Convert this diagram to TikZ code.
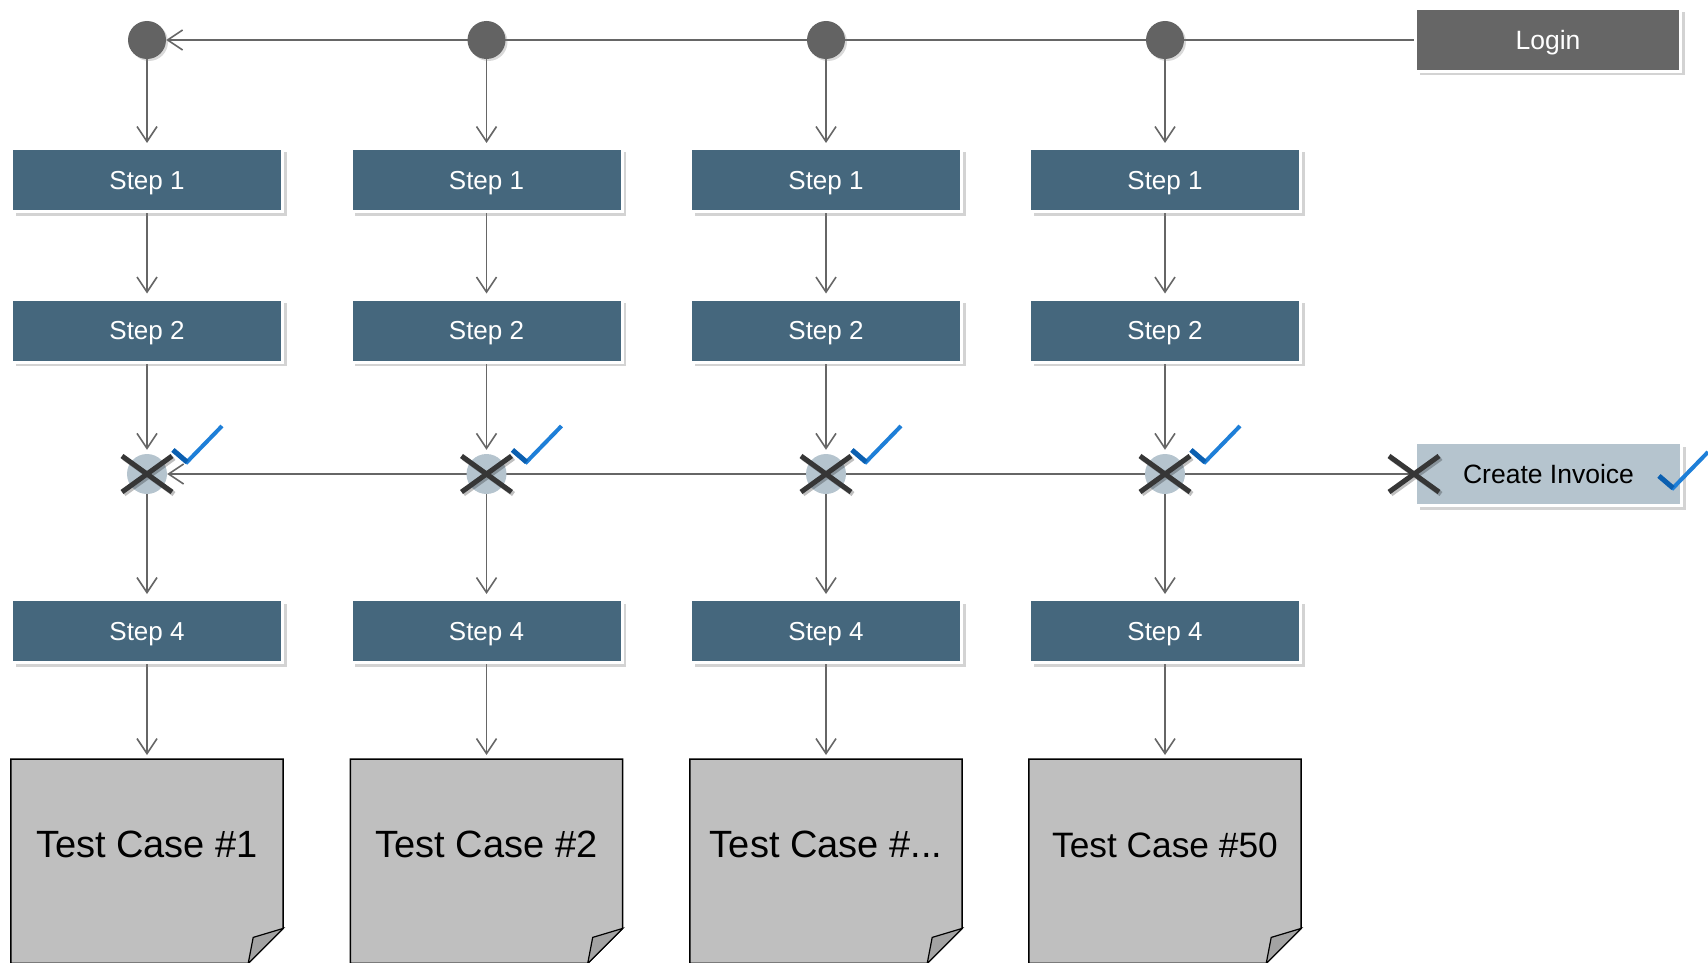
\documentclass[tikz,border=0pt]{standalone}
\usepackage{fontspec}
\setmainfont{Liberation Sans}
\usepackage{xcolor}
\usetikzlibrary{positioning, arrows.meta, calc, shadows, backgrounds}

\definecolor{stepblue}{HTML}{45677D}
\definecolor{logingray}{HTML}{666666}
\definecolor{hubgray}{HTML}{636363}
\definecolor{invoiceblue}{HTML}{B5C4CE}
\definecolor{papergray}{HTML}{BFBFBF}
\definecolor{foldgray}{HTML}{A3A3A3}
\definecolor{linegray}{HTML}{666666}
\definecolor{tickblue}{HTML}{1E7FD8}
\definecolor{tickdark}{HTML}{0B5FB0}
\definecolor{crossgray}{HTML}{363636}

\newcommand{\tcdots}{...}

\tikzset{
    stepbox/.style={rectangle, fill=stepblue, draw=white, line width=3pt,
        minimum width=271pt, minimum height=63pt, inner sep=0pt, text=white,
        text depth=0pt, font=\fontsize{26}{31}\selectfont,
        drop shadow={shadow xshift=4pt, shadow yshift=-4pt, opacity=0.35}},
    loginbox/.style={stepbox, fill=logingray, minimum width=265pt, font=\fontsize{26.5}{31}\selectfont},
    invoicebox/.style={stepbox, fill=invoiceblue, text=black, minimum width=266pt, font=\fontsize{26.5}{31}\selectfont},
    hub/.style={circle, fill=hubgray, minimum size=38pt, inner sep=0pt,
        drop shadow={shadow xshift=2pt, shadow yshift=-2pt, opacity=0.3}},
    xhub/.style={circle, fill=invoiceblue, minimum size=40pt, inner sep=0pt},
    testcase/.style={rectangle, inner sep=0pt, minimum width=272pt, anchor=north,
        text height=98.5pt, text depth=105.5pt},
    paper/.style={fill=papergray, draw=black, line width=1.5pt, line join=miter},
    conn/.style={->, draw=linegray, line width=1.6pt, shorten >=4pt},
    failx/.pic={
        \draw[line width=5pt, black, opacity=0.25] (-23,-16) -- (27,20) (-23,20) -- (27,-16);
        \draw[line width=5pt, crossgray] (-25,-18) -- (25,18) (-25,18) -- (25,-18);
    },
    okcheck/.pic={
        \draw[line width=4pt, tickblue, line join=miter] (-14,-12) -- (0,0) -- (35,-36);
        \draw[line width=5pt, tickdark] (-14,-12) -- (0,0);
    }
}

\begin{document}
\begin{tikzpicture}[x=1pt, y=-1pt, >={Straight Barb[length=15pt, width=20pt]}]

    \useasboundingbox (0,0) rectangle (1708,963);

    % ---------------------------------------------------
    % Login and invoice boxes
    % ---------------------------------------------------
    \node[loginbox] (login) at (1548,40) {Login};
    \node[invoicebox] (ci) at (1548.5,474) {Create Invoice};

    % ---------------------------------------------------
    % Test case columns
    % ---------------------------------------------------
    \foreach \i/\x/\tc/\fs in {1/147/1/38, 2/486.5/2/38, 3/826/\tcdots/38, 4/1165/50/35.3} {
        \node[hub] (c\i) at (\x,40) {};
        \node[stepbox] (sa\i) at (\x,180) {Step 1};
        \node[stepbox] (sb\i) at (\x,330.5) {Step 2};
        \node[xhub] (xm\i) at (\x,474) {};
        \node[stepbox] (sd\i) at (\x,631) {Step 4};
        \node[testcase, font=\fontsize{\fs}{45}\selectfont] (tc\i) at (\x,759) {Test Case \#\tc};

        % pass / fail marks
        \pic at (xm\i) {failx};
        \pic at ($(xm\i)+(40,-12)$) {okcheck};
    }

    \pic at (ci.west) {failx};
    \pic at ($(ci.east)+(-10,14)$) {okcheck};

    % ---------------------------------------------------
    % Paper sheets and connectors
    % ---------------------------------------------------
    \begin{scope}[on background layer]
        \foreach \i in {1,...,4} {
            \draw[paper] (tc\i.north west) -- (tc\i.north east) -- ([yshift=35pt]tc\i.south east)
                -- ([xshift=-35pt]tc\i.south east) -- (tc\i.south west) -- cycle;
            \draw[fill=foldgray, draw=black, line width=1.2pt, line join=miter]
                ([yshift=35pt]tc\i.south east) -- ([xshift=-30pt, yshift=26pt]tc\i.south east)
                -- ([xshift=-35pt]tc\i.south east) -- cycle;

            \draw[conn] (c\i) -- (sa\i);
            \draw[conn] (sa\i) -- (sb\i);
            \draw[conn] (sb\i) -- (xm\i);
            \draw[conn] (xm\i) -- (sd\i);
            \draw[conn] (sd\i) -- (tc\i);
        }
        \draw[conn, shorten >=0pt] (login.west) -- (c1);
        \draw[conn, shorten >=0pt] (ci.west) -- (xm1);
    \end{scope}

\end{tikzpicture}
\end{document}
